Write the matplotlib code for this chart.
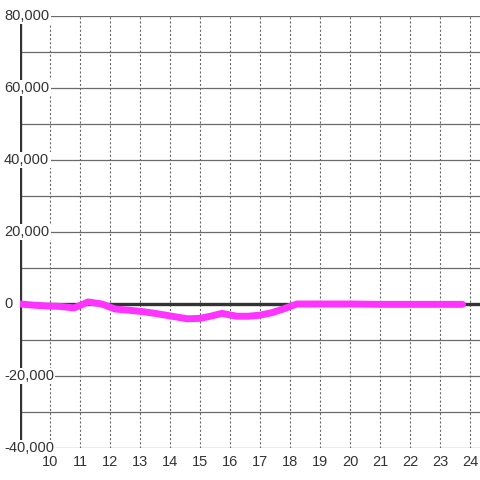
import matplotlib
matplotlib.use("Agg")
import matplotlib.pyplot as plt
import matplotlib.transforms as mtransforms

plt.rcParams['font.family'] = ['Liberation Sans', 'DejaVu Sans']
plt.rcParams['lines.scale_dashes'] = False

# hour of day vs value
hours = [9.0, 9.5, 9.93, 10.3, 10.6, 10.8, 11.0, 11.27, 11.73, 12.17, 12.6, 13.07, 13.5,
         14.0, 14.57, 15.0, 15.4, 15.73, 16.23, 16.6, 17.0, 17.4, 17.77, 18.23,
         19.0, 20.0, 21.0, 22.0, 23.0, 23.75]
values = [0, -350, -560, -650, -900, -1100, -400, 560, 0, -1400, -1700, -2100, -2600,
          -3300, -4100, -4000, -3300, -2600, -3400, -3400, -3100, -2400, -1400, 0,
          0, 0, -100, -100, -100, -100]

ytick_vals = [80000, 60000, 40000, 20000, 0, -20000, -40000]
ytick_labels = ['80,000', '60,000', '40,000', '20,000', '0', '-20,000', '-40,000']
xtick_vals = list(range(10, 25))

fig = plt.figure(figsize=(4.8, 4.8), dpi=100)
ax = fig.add_axes([20 / 480, 32 / 480, 460 / 480, 432 / 480])
ax.set_xlim(9.0, 24.333)
ax.set_ylim(-40000, 80000)

for s in ['top', 'right', 'bottom', 'left']:
    ax.spines[s].set_visible(False)

# horizontal grid (solid) and vertical grid (dotted)
for v in range(-40000, 80001, 10000):
    ax.axhline(v, color='#6a6a6a', lw=0.9, zorder=1)
for h in xtick_vals:
    ax.axvline(h, color='#666666', lw=0.8, dashes=(1.5, 1.5), zorder=1)

# left axis and zero line
ax.axvline(9.0, color='#333333', lw=2.4, zorder=2)
ax.axhline(0, color='#333333', lw=2.4, zorder=2)

ax.plot(hours, values, color='#ff33ff', lw=5, solid_capstyle='round',
        solid_joinstyle='round', zorder=3)

ax.set_yticks([])
ax.set_xticks(xtick_vals)
ax.set_xticklabels([str(h) for h in xtick_vals])
ax.tick_params(axis='x', length=0, pad=5, labelsize=10.5, labelcolor='#333333')

trans = mtransforms.blended_transform_factory(fig.transFigure, ax.transData)
for v, lab in zip(ytick_vals, ytick_labels):
    ax.text(4 / 480, v, lab, transform=trans, ha='left', va='center',
            fontsize=10.5, color='#333333', zorder=5, clip_on=False,
            bbox=dict(facecolor='white', edgecolor='none', pad=1.0))

fig.savefig('out.png', dpi=100)
